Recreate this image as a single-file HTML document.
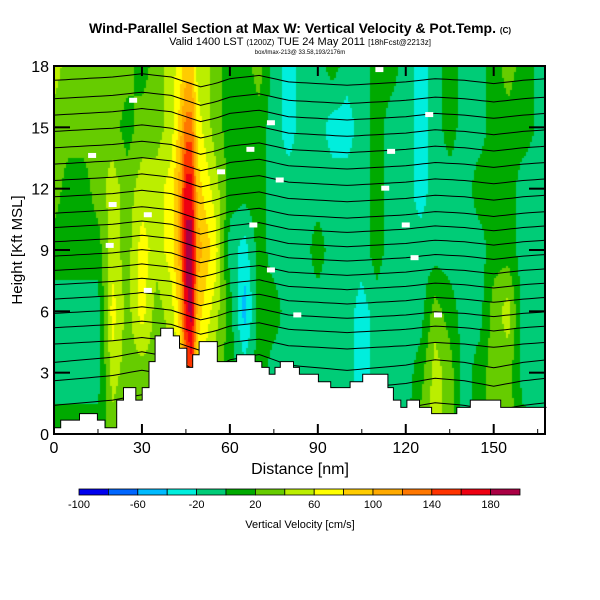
<!DOCTYPE html>
<html><head><meta charset="utf-8"><style>
body{margin:0;background:#fff;width:600px;height:600px;overflow:hidden;font-family:"Liberation Sans",sans-serif}
#wrap{position:relative;width:600px;height:600px}
</style></head><body>
<div id="wrap">
<svg id="svg" width="600" height="600" style="position:absolute;left:0;top:0">
<text x="300" y="33" text-anchor="middle" font-size="14" font-weight="bold">Wind-Parallel Section at Max W: Vertical Velocity &amp; Pot.Temp. <tspan font-size="8">(C)</tspan></text>
<text x="300" y="45" text-anchor="middle" font-size="11">Valid 1400 LST <tspan font-size="8">(1200Z)</tspan> TUE 24 May 2011 <tspan font-size="8">[18hFcst@2213z]</tspan></text>
<text x="300" y="54" text-anchor="middle" font-size="6">box/lmax-213@ 33.58,193/2176m</text>
<foreignObject x="54" y="66" width="491" height="368"><canvas xmlns="http://www.w3.org/1999/xhtml" id="cv" width="491" height="368"></canvas></foreignObject>
<g id="theta"></g>
<g id="terrain"></g>
<g id="labels"></g>
<rect x="54" y="66" width="491" height="368" fill="none" stroke="#000" stroke-width="2"/>
<g id="axes"></g>
<text x="300" y="474" text-anchor="middle" font-size="16">Distance [nm]</text>
<text transform="translate(22,250) rotate(-90)" text-anchor="middle" font-size="15">Height [Kft MSL]</text>
<g id="cbar"></g>
<text x="300" y="528" text-anchor="middle" font-size="11">Vertical Velocity [cm/s]</text>
</svg>
</div>
<script>
// ---- data ----
const xCols=[0,5,10,15,20,25,30,35,40,43,45,47,49,52,55,60,65,70,75,80,85,90,95,100,105,110,115,120,125,130,135,140,145,150,155,160,168];
const hRows=[0,3,6,9,12,15,18];
// w[col] = values at hRows
const wField=[
[10,-10,-10,10,30,30,50],[10,-10,-10,10,10,30,30],[10,-10,-10,10,10,30,30],[10,-10,-10,10,30,30,30],
[30,50,70,50,50,30,30],[10,30,30,30,30,10,30],[10,30,70,70,50,30,10],[30,30,30,50,50,30,30],
[30,30,50,70,70,50,50],[50,70,90,110,110,90,70],[90,130,170,190,170,130,90],[90,150,190,190,170,130,90],
[50,70,90,110,90,70,50],[50,50,70,90,70,50,50],[30,30,50,70,50,30,30],[10,10,10,-10,10,10,10],
[-10,-10,-50,-30,10,10,10],[10,10,10,10,10,10,30],[-10,-10,10,-10,-10,-10,-10],[-10,-10,-10,-10,-10,-30,-30],
[-10,-10,-10,-10,-10,-10,-10],[-10,-10,-10,10,-10,-10,-10],[-10,-10,-10,-10,-10,-30,10],[-10,-10,-10,-10,-10,-30,-10],
[-30,-30,-30,-10,-10,-10,-10],[-10,-10,-10,10,10,10,10],[-10,-10,-10,-10,-10,-10,10],[-10,-10,-10,-10,-10,-10,-10],
[30,10,-10,-10,-30,-30,-30],[50,50,30,-10,-10,-10,-10],[30,30,10,-10,-10,10,10],[-10,-10,-10,-10,-10,-10,-10],
[10,10,-10,-10,10,-10,-10],[30,30,30,10,10,10,10],[30,30,50,10,10,10,30],[10,-10,-10,-10,-10,10,10],[-10,-10,-10,-10,-10,-10,-10]];
const levels=[-100,-80,-60,-40,-20,0,20,40,60,80,100,120,140,160,180,200];
const levelColors=["#0000ee","#0066ff","#00bbff","#00eedd","#00cc77","#00aa00","#66cc00","#bbee00","#ffff00","#ffcc00","#ffaa00","#ff7700","#ff3300","#ee0011","#aa0044"];
const cbarLabels=[-100,-60,-20,20,60,100,140,180];
const terrainX=[0,2.3,8.7,14.8,17.4,21.4,23.7,27.9,30.1,32.4,34.5,36.4,40.7,42.8,45.3,47.3,49.5,55.7,62.3,68.6,70.9,73.4,75.4,77.2,81.7,83.7,90.2,94.4,101,105.3,113.9,115.8,118.3,120.4,124.7,128.8,137.4,142,152.4,168];
const terrainH=[0.31,0.68,1.0,0.68,0.31,1.66,2.27,1.66,2.27,3.54,4.8,5.17,4.8,4.19,3.26,3.88,4.52,3.54,3.88,3.54,3.26,2.92,3.26,3.54,3.26,2.92,2.56,2.27,2.56,2.92,2.27,1.66,1.3,1.66,1.3,1.0,1.3,1.66,1.3,1.3];
const thetaBase=[1.4,2.6,3.5,4.4,5.2,5.9,6.6,7.3,8.0,8.7,9.4,10.1,10.8,11.6,12.4,13.2,14.0,14.8,15.6,16.4,17.3];
const dispX=[0,10,20,30,40,45,50,55,60,70,80,90,100,110,120,130,140,150,160,168];
const dispH=[0,0.1,0.2,0.4,0.2,-0.1,-0.4,-0.2,0.1,0.3,-0.1,-0.2,-0.3,-0.2,-0.1,0.1,0,-0.2,0,0.1];
const xTicks=[0,30,60,90,120,150];
const yTicks=[0,3,6,9,12,15,18];
// ---- scales ----
const X0=54,X1=545,Y0=434,Y1=66,XMAX=167.5,YMAX=18;
const sx=v=>X0+v/XMAX*(X1-X0), sy=v=>Y0-v/YMAX*(Y0-Y1);
const NS="http://www.w3.org/2000/svg";
function mk(tag,attrs,parent){const e=document.createElementNS(NS,tag);for(const k in attrs)e.setAttribute(k,attrs[k]);parent.appendChild(e);return e;}
function interp1(xs,ys,x){if(x<=xs[0])return ys[0];for(let i=1;i<xs.length;i++){if(x<=xs[i]){const t=(x-xs[i-1])/(xs[i]-xs[i-1]);return ys[i-1]+t*(ys[i]-ys[i-1]);}}return ys[ys.length-1];}
function wAt(x,h){let i=0;while(i<xCols.length-2&&x>xCols[i+1])i++;const tx=Math.max(0,Math.min(1,(x-xCols[i])/(xCols[i+1]-xCols[i])));
 let j=0;while(j<hRows.length-2&&h>hRows[j+1])j++;const ty=Math.max(0,Math.min(1,(h-hRows[j])/(hRows[j+1]-hRows[j])));
 const a=wField[i][j],b=wField[i+1][j],c=wField[i][j+1],d=wField[i+1][j+1];
 return (a*(1-tx)+b*tx)*(1-ty)+(c*(1-tx)+d*tx)*ty;}
function colorOf(v){for(let k=0;k<levelColors.length;k++){if(v<levels[k+1])return levelColors[k];}return levelColors[levelColors.length-1];}
// field
const cv=document.getElementById('cv'),ctx=cv.getContext('2d');
const cs=2;
for(let py=0;py<368;py+=cs){const h=(Y0-(Y1+py+cs/2))/(Y0-Y1)*YMAX;
 for(let px=0;px<491;px+=cs){const x=(px+cs/2)/(X1-X0)*XMAX;ctx.fillStyle=colorOf(wAt(x,h));ctx.fillRect(px,py,cs,cs);}}
// theta
const tg=document.getElementById('theta');
thetaBase.forEach((b,i)=>{let d='';const amp=b<4?1.3:0.8;
 for(let x=0;x<=XMAX;x+=2){const h=b+interp1(dispX,dispH,x)*amp;d+=(x===0?'M':'L')+sx(x).toFixed(1)+','+sy(h).toFixed(1);}
 d+='L'+sx(XMAX).toFixed(1)+','+sy(b+interp1(dispX,dispH,XMAX)*amp).toFixed(1);
 const p=mk('path',{d:d,fill:'none',stroke:'#000','stroke-width':1},tg);
 
 });
// terrain
const trg=document.getElementById('terrain');
let td='M'+sx(0)+','+sy(0);
for(let i=0;i<terrainX.length-1;i++){td+='L'+sx(terrainX[i]).toFixed(1)+','+sy(terrainH[i]).toFixed(1)+'L'+sx(terrainX[i+1]).toFixed(1)+','+sy(terrainH[i]).toFixed(1);}
td+='L'+X1+','+sy(terrainH[terrainH.length-1]).toFixed(1)+'L'+X1+','+Y0+'Z';
const tp=mk('path',{d:td,fill:'#fff',stroke:'#000','stroke-width':1},trg);


// contour labels
const lg=document.getElementById('labels');
[[27,16.3],[111,17.8],[74,15.2],[128,15.6],[13,13.6],[67,13.9],[115,13.8],[57,12.8],[77,12.4],[113,12.0],[20,11.2],[32,10.7],[120,10.2],[68,10.2],[19,9.2],[123,8.6],[32,7.0],[74,8.0],[83,5.8],[131,5.8]].forEach((p,i)=>{
 const r=mk('rect',{x:sx(p[0])-4,y:sy(p[1])-3,width:8,height:5,fill:'#fff'},lg);
 
 });
// axes
const ag=document.getElementById('axes');
xTicks.forEach(v=>{const x=sx(v);
 const t1=mk('line',{x1:x,y1:Y0,x2:x,y2:Y0-10,stroke:'#000','stroke-width':2},ag);
 const t2=mk('line',{x1:x,y1:Y1,x2:x,y2:Y1+10,stroke:'#000','stroke-width':2},ag);
 const m=mk('line',{x1:sx(v+15),y1:Y0,x2:sx(v+15),y2:Y0-5,stroke:'#000','stroke-width':1},ag);
 const tx=mk('text',{x:x,y:453,'text-anchor':'middle','font-size':16},ag);tx.textContent=v;});
yTicks.forEach(v=>{const y=sy(v);
 if(v>0&&v<18){const t1=mk('line',{x1:X0,y1:y,x2:X0+16,y2:y,stroke:'#000','stroke-width':2},ag);
 const t2=mk('line',{x1:X1,y1:y,x2:X1-16,y2:y,stroke:'#000','stroke-width':2},ag);}
 const tx=mk('text',{x:49,y:y+6,'text-anchor':'end','font-size':16},ag);tx.textContent=v;});
// colorbar
const cg=document.getElementById('cbar');const cx0=79,cx1=520,cw=(cx1-cx0)/levelColors.length;
levelColors.forEach((c,i)=>{const r=mk('rect',{x:cx0+i*cw,y:489,width:cw,height:6,fill:c,stroke:'#000','stroke-width':0.8},cg);
 
 });
cbarLabels.forEach(v=>{const x=cx0+(v-levels[0])/(levels[levels.length-1]-levels[0])*(cx1-cx0);
 const t=mk('text',{x:x,y:508,'text-anchor':'middle','font-size':11},cg);t.textContent=v;
 
 });
</script>
</body></html>
